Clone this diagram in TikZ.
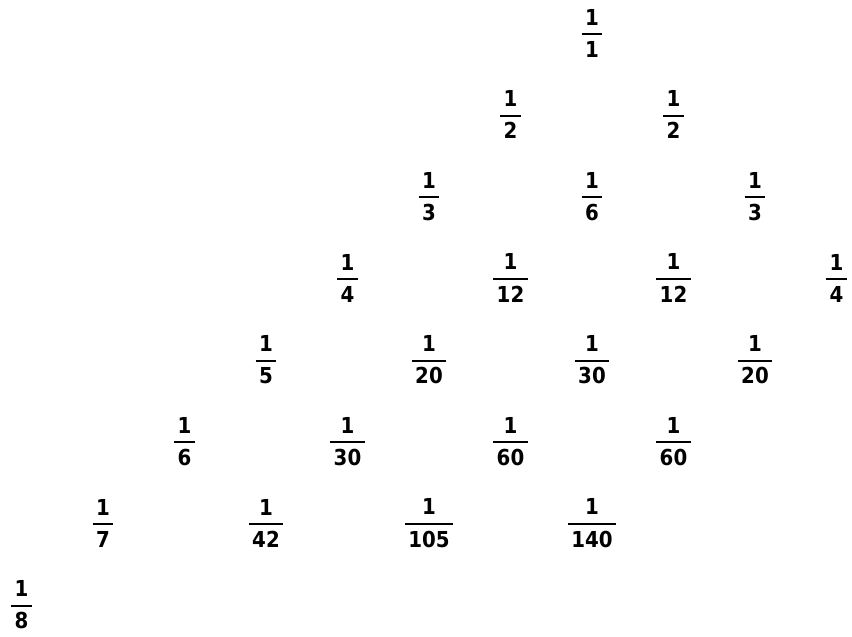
\documentclass[tikz,border=0pt]{standalone}
\usepackage{fontspec}
\setmainfont{DejaVu Sans Condensed}
\newcommand\fr[2]{\vbox{\offinterlineskip\halign{\hfil\kern3.5pt##\kern3.5pt\hfil\cr #1\cr\noalign{\kern8pt\hrule height 2pt\kern6pt}#2\cr}}}
\tikzset{frac/.style={inner sep=0pt,font=\fontsize{22}{26}\selectfont\bfseries}}
\begin{document}
\begin{tikzpicture}[x=1pt,y=-1pt]
\useasboundingbox (0,0) rectangle (852,637);
\def\dx{81.5}
\def\dy{81.7}
% row, position, denominator, name
\foreach \r/\k/\d/\nm in {
 1/0/1/a10,
 2/0/2/a20, 2/1/2/a21,
 3/0/3/a30, 3/1/6/a31, 3/2/3/a32,
 4/0/4/a40, 4/1/12/a41, 4/2/12/a42, 4/3/4/a43,
 5/0/5/a50, 5/1/20/a51, 5/2/30/a52, 5/3/20/a53,
 6/0/6/a60, 6/1/30/a61, 6/2/60/a62, 6/3/60/a63,
 7/0/7/a70, 7/1/42/a71, 7/2/105/a72, 7/3/140/a73,
 8/0/8/a80}
 \node[frac] (\nm) at ({592-\dx*(\r-1)+2*\dx*\k},{33+\dy*(\r-1)}) {\fr{1}{\d}};
\end{tikzpicture}
\end{document}
